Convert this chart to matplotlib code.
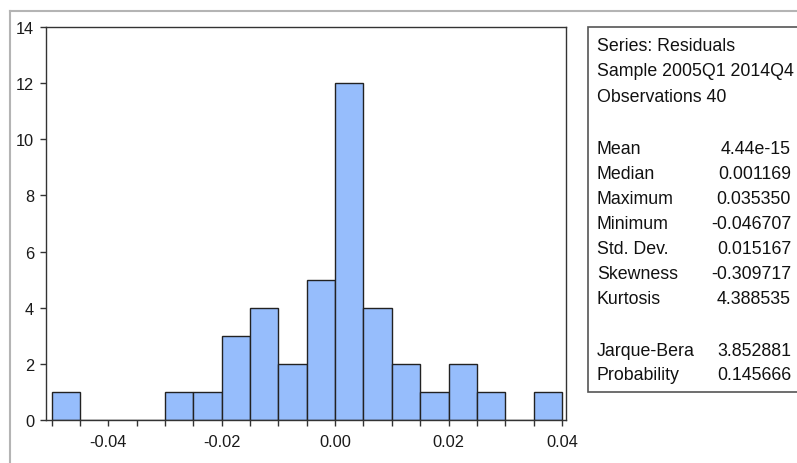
import matplotlib
matplotlib.use("Agg")
import matplotlib.pyplot as plt
from matplotlib.ticker import MultipleLocator
from matplotlib.patches import Rectangle
from matplotlib.lines import Line2D

# histogram of residuals, bin width 0.005
bin_left = [-0.050, -0.045, -0.040, -0.035, -0.030, -0.025, -0.020, -0.015, -0.010,
            -0.005, 0.000, 0.005, 0.010, 0.015, 0.020, 0.025, 0.030, 0.035]
counts = [1, 0, 0, 0, 1, 1, 3, 4, 2, 5, 12, 4, 2, 1, 2, 1, 0, 1]
bin_width = 0.005

xticks = [-0.04, -0.02, 0.00, 0.02, 0.04]
xtick_labels = ["-0.04", "-0.02", "0.00", "0.02", "0.04"]
yticks = [0, 2, 4, 6, 8, 10, 12, 14]

header = ["Series: Residuals", "Sample 2005Q1 2014Q4", "Observations 40"]
stat_names = ["Mean", "Median", "Maximum", "Minimum", "Std. Dev.", "Skewness", "Kurtosis"]
stat_values = ["4.44e-15", "0.001169", "0.035350", "-0.046707", "0.015167", "-0.309717", "4.388535"]
test_names = ["Jarque-Bera", "Probability"]
test_values = ["3.852881", "0.145666"]

W, H = 797, 464
fig = plt.figure(figsize=(W / 100, H / 100), dpi=100)
fig.patch.set_facecolor("white")

font = ["Liberation Sans", "DejaVu Sans"]

# outer light grey frame
fig.add_artist(Line2D([10 / W, 1], [1 - 12 / H, 1 - 12 / H], color="#b4b4b4", lw=1.5))
fig.add_artist(Line2D([10 / W, 10 / W], [0, 1 - 12 / H], color="#b4b4b4", lw=1.5))

ax = fig.add_axes([46 / W, 1 - 421 / H, (566 - 46) / W, (421 - 28) / H])
ax.bar(bin_left, counts, width=bin_width, align="edge",
       color="#96bdfc", edgecolor="#222222", linewidth=1.0)

ax.set_xlim(-0.05097, 0.0407)
ax.set_ylim(0, 14)
ax.set_xticks(xticks)
ax.set_xticklabels(xtick_labels)
ax.xaxis.set_minor_locator(MultipleLocator(0.005))
ax.set_yticks(yticks)

for s in ax.spines.values():
    s.set_color("#333333")
    s.set_linewidth(1.0)

ax.tick_params(axis="both", which="both", direction="out", length=4.5,
               width=1.0, color="#333333", labelsize=11.8, labelcolor="#1a1a1a")
ax.tick_params(axis="x", which="major", pad=5.5)
ax.tick_params(axis="y", which="major", pad=4)
for lab in ax.get_xticklabels() + ax.get_yticklabels():
    lab.set_family(font)

# statistics box
fig.add_artist(Rectangle((588 / W, 1 - 393 / H), (805 - 588) / W, (393 - 28) / H,
                         transform=fig.transFigure, facecolor="white",
                         edgecolor="#555555", linewidth=1.2, clip_on=False))

fs = 12.8
x_left = 597 / W
x_right = 791 / W
y0 = 47
step = 25
for i, t in enumerate(header):
    fig.text(x_left, 1 - (y0 + i * step) / H, t, fontsize=fs, family=font,
             va="center", ha="left", color="#111111")

y1 = 150
for i, (n, v) in enumerate(zip(stat_names, stat_values)):
    y = 1 - (y1 + i * 24.9) / H
    fig.text(x_left, y, n, fontsize=fs, family=font, va="center", ha="left", color="#111111")
    fig.text(x_right, y, v, fontsize=fs, family=font, va="center", ha="right", color="#111111")

y2 = 352
for i, (n, v) in enumerate(zip(test_names, test_values)):
    y = 1 - (y2 + i * 24) / H
    fig.text(x_left, y, n, fontsize=fs, family=font, va="center", ha="left", color="#111111")
    fig.text(x_right, y, v, fontsize=fs, family=font, va="center", ha="right", color="#111111")

fig.savefig("out.png", dpi=100)
